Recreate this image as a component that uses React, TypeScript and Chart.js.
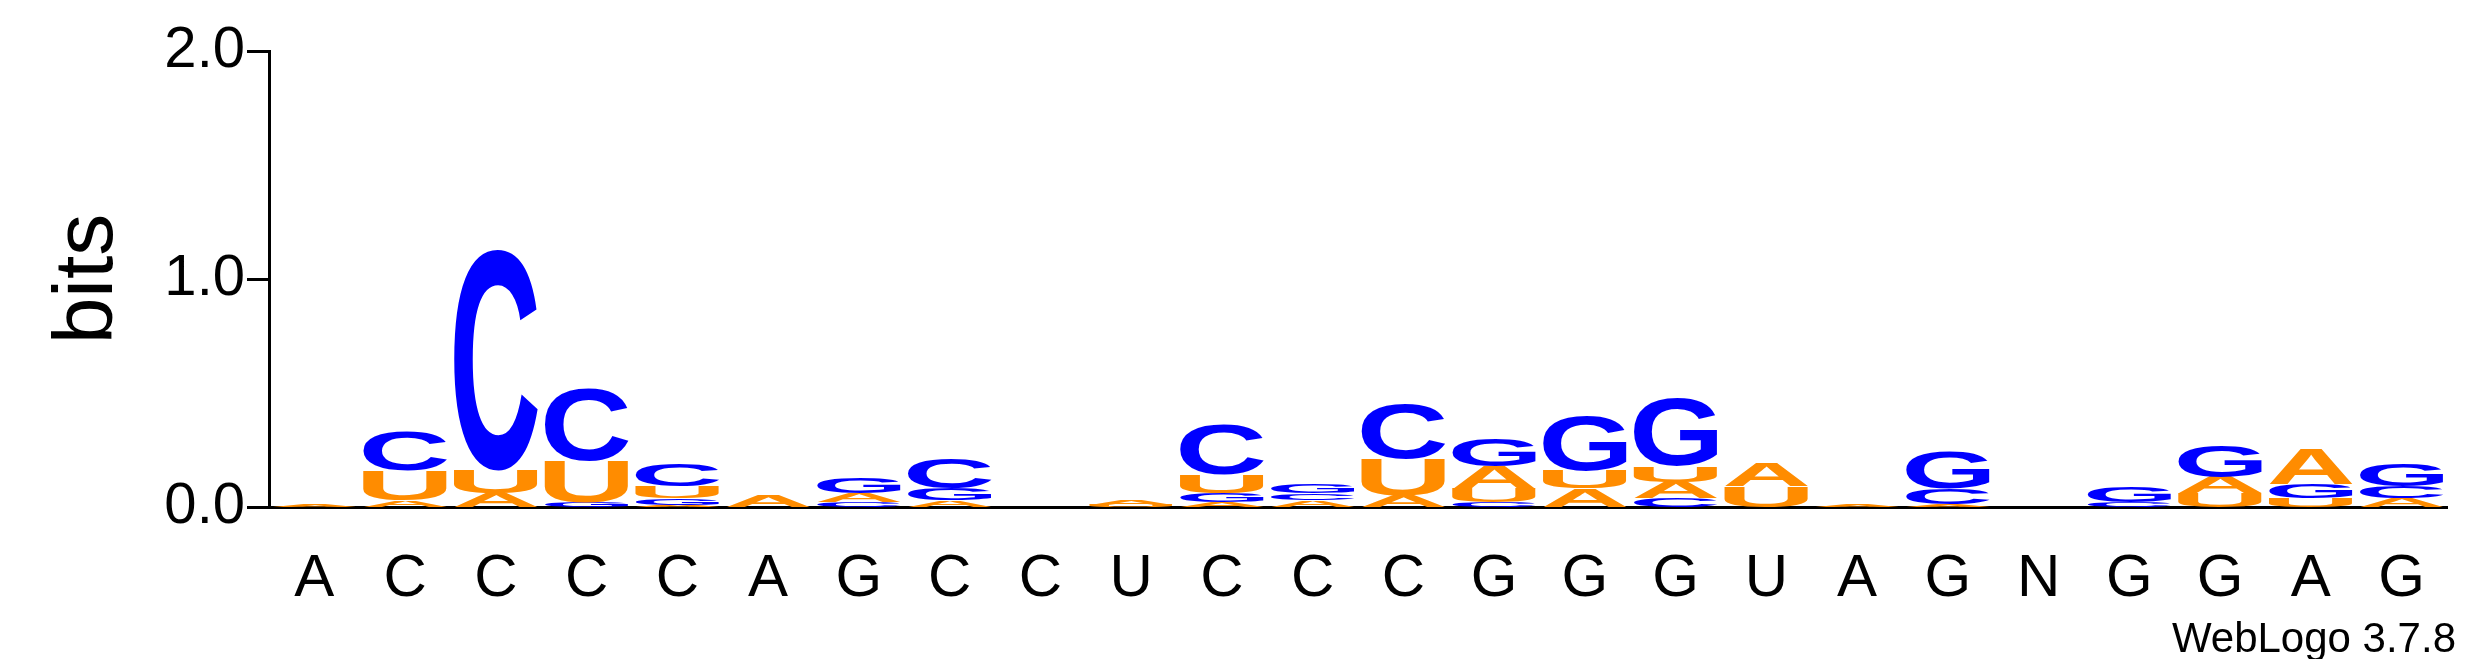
import React, { useEffect, useRef } from "react";
import { Chart, registerables } from "chart.js";
Chart.register(...registerables);

const positions = ["A","C","C","C","C","A","G","C","C","U","C","C","C","G","G","G","U","A","G","N","G","G","A","G"];
const A_bits = [0.01,0.03,0.06,0.0,0.01,0.05,0.04,0.03,0.0,0.02,0.02,0.03,0.05,0.1,0.08,0.07,0.1,0.01,0.01,0.0,0.0,0.07,0.15,0.04];
const C_bits = [0.0,0.17,0.97,0.32,0.1,0.0,0.02,0.13,0.0,0.0,0.22,0.03,0.24,0.02,0.0,0.04,0.0,0.0,0.07,0.0,0.02,0.0,0.0,0.05];
const G_bits = [0.0,0.0,0.0,0.02,0.03,0.0,0.07,0.05,0.0,0.0,0.04,0.04,0.0,0.12,0.24,0.3,0.0,0.0,0.16,0.0,0.07,0.14,0.06,0.1];
const U_bits = [0.0,0.13,0.1,0.18,0.05,0.0,0.0,0.0,0.0,0.01,0.08,0.0,0.16,0.06,0.08,0.07,0.09,0.0,0.0,0.0,0.0,0.06,0.04,0.0];
const yTicks = [0, 1, 2];

const COLORS: Record<string, string> = { A: "#ff8c00", U: "#ff8c00", C: "#0000ff", G: "#0000ff" };
const FONT = "Liberation Sans";

const logoPlugin = {
  id: "logo",
  afterDatasetsDraw(chart: any) {
    const ctx = chart.ctx;
    const xs = chart.scales.x, ys = chart.scales.y;
    const slot = (xs.right - xs.left) / positions.length;
    positions.forEach((_, i) => {
      const stack = [
        { l: "A", v: A_bits[i] }, { l: "C", v: C_bits[i] },
        { l: "G", v: G_bits[i] }, { l: "U", v: U_bits[i] },
      ].filter(s => s.v > 0).sort((a, b) => a.v - b.v);
      let base = 0;
      const cx = xs.getPixelForValue(i);
      const w = slot * 0.92;
      stack.forEach(s => {
        const yb = ys.getPixelForValue(base);
        const yt = ys.getPixelForValue(base + s.v);
        base += s.v;
        const h = yb - yt;
        if (h <= 0.3) return;
        ctx.save();
        ctx.font = `bold 200px "${FONT}"`;
        const m = ctx.measureText(s.l);
        const gw = m.actualBoundingBoxLeft + m.actualBoundingBoxRight;
        const gh = m.actualBoundingBoxAscent + m.actualBoundingBoxDescent;
        ctx.translate(cx - w / 2, yb);
        ctx.scale(w / gw, h / gh);
        ctx.fillStyle = COLORS[s.l];
        ctx.textBaseline = "alphabetic";
        ctx.fillText(s.l, m.actualBoundingBoxLeft, -m.actualBoundingBoxDescent);
        ctx.restore();
      });
    });
    ctx.save();
    ctx.font = `42px "${FONT}"`;
    ctx.fillStyle = "#000";
    ctx.textAlign = "right";
    ctx.textBaseline = "middle";
    ctx.fillText("WebLogo 3.7.8", 2448, 632);
    ctx.restore();
  },
};

export default function App() {
  const ref = useRef<HTMLCanvasElement>(null);
  useEffect(() => {
    const chart = new Chart(ref.current!, {
      type: "bar",
      data: { labels: positions, datasets: [{ data: positions.map(() => 0), backgroundColor: "transparent" }] },
      options: {
        animation: false,
        responsive: true,
        maintainAspectRatio: false,
        layout: { padding: { top: 43, right: 20, left: 0, bottom: 0 } },
        plugins: { legend: { display: false }, tooltip: { enabled: false } },
        scales: {
          x: {
            grid: { display: false },
            border: { display: true, color: "#000", width: 3 },
            ticks: { color: "#000", font: { family: FONT, size: 60 }, padding: 28, maxRotation: 0, autoSkip: false },
            afterFit: (s: any) => { s.height = 152; },
          },
          y: {
            min: 0, max: 2,
            afterBuildTicks: (s: any) => { s.ticks = yTicks.map(v => ({ value: v })); },
            ticks: { color: "#000", font: { family: FONT, size: 58 }, callback: (v: any) => Number(v).toFixed(1), padding: 2 },
            grid: { drawOnChartArea: false, tickLength: 22, tickColor: "#000", lineWidth: 3 },
            border: { display: true, color: "#000", width: 3 },
            title: { display: true, text: "bits", color: "#000", font: { family: FONT, size: 84 }, padding: { top: 30, bottom: 0 } },
            afterFit: (s: any) => { s.width = 261; },
          },
        },
      },
      plugins: [logoPlugin],
    });
    return () => chart.destroy();
  }, []);
  return (
    <div style={{ width: 2459, height: 651 }}>
      <canvas ref={ref} />
    </div>
  );
}
